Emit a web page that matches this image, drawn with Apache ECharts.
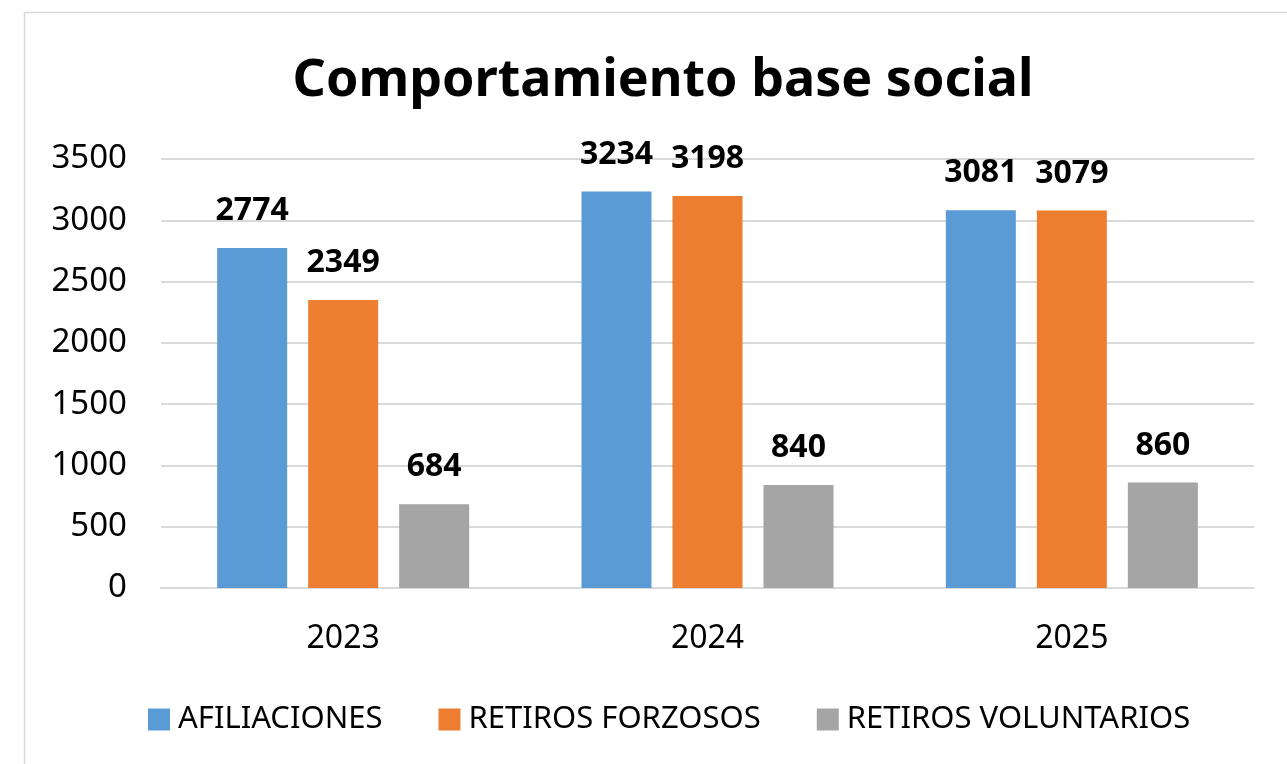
<!DOCTYPE html>
<html><head><meta charset="utf-8">
<script src="https://cdn.jsdelivr.net/npm/echarts@6/dist/echarts.min.js"></script>
<style>html,body{margin:0;padding:0;background:#fff}#c{width:1287px;height:764px}</style>
</head><body><div id="c"></div>
<script>
const categories = ['2023', '2024', '2025'];
const afiliaciones = [2774, 3234, 3081];
const retirosForzosos = [2349, 3198, 3079];
const retirosVoluntarios = [684, 840, 860];
const seriesNames = ['AFILIACIONES', 'RETIROS FORZOSOS', 'RETIROS VOLUNTARIOS'];
const colors = ['#5B9BD5', '#ED7D31', '#A5A5A5'];
const FONT = 'Noto Sans';

const chart = echarts.init(document.getElementById('c'), null, {renderer: 'canvas'});
const lbl = {show: true, position: 'top', distance: 21, color: '#000', fontFamily: FONT, fontWeight: 'bold', fontSize: 32};
function mk(name, data, color) {
  return {name, type: 'bar', data, barWidth: 70, barGap: '30%', itemStyle: {color}, label: lbl};
}
chart.setOption({
  animation: false,
  graphic: [{type: 'rect', shape: {x: 24.5, y: 12.5, width: 1300, height: 800}, style: {fill: 'none', stroke: '#d9d9d9', lineWidth: 1.5}, silent: true}],
  title: {text: 'Comportamiento base social', left: 658, top: 50, textAlign: 'center',
    textStyle: {fontFamily: FONT, fontWeight: 'bold', fontSize: 52, color: '#000'}},
  grid: {left: 161, right: 33, top: 159, bottom: 176, containLabel: false},
  legend: {bottom: 24, left: 143, itemWidth: 22, itemHeight: 22, itemGap: 56,
    icon: 'rect', textStyle: {fontFamily: FONT, fontSize: 31, color: '#000', padding: [0, 0, 0, 3]},
    data: seriesNames},
  xAxis: {type: 'category', data: categories,
    axisLine: {lineStyle: {color: '#d9d9d9', width: 2}}, axisTick: {show: false},
    axisLabel: {fontFamily: FONT, fontSize: 32, color: '#000', margin: 35}},
  yAxis: {type: 'value', min: 0, max: 3500, interval: 500,
    axisLine: {show: false}, axisTick: {show: false},
    splitLine: {lineStyle: {color: '#d9d9d9', width: 2}},
    axisLabel: {fontFamily: FONT, fontSize: 33, color: '#000', margin: 34, formatter: v => String(v)}},
  series: [
    mk(seriesNames[0], afiliaciones, colors[0]),
    mk(seriesNames[1], retirosForzosos, colors[1]),
    mk(seriesNames[2], retirosVoluntarios, colors[2])
  ]
});
</script></body></html>
